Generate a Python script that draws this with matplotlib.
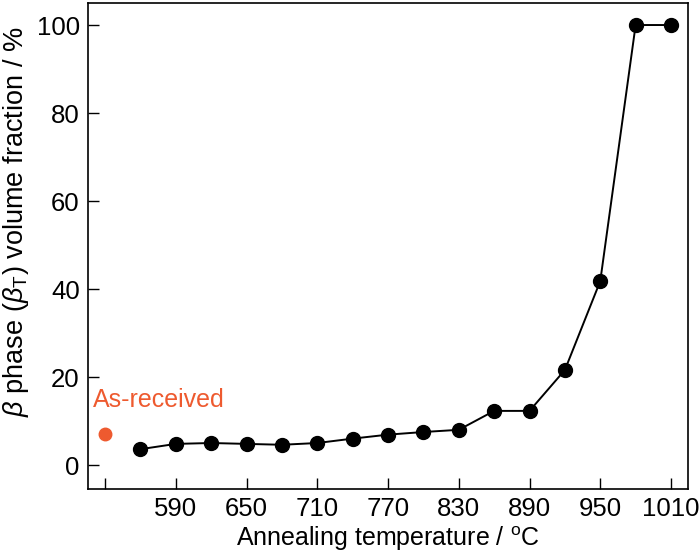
import matplotlib.pyplot as plt
import numpy as np

plt.rcParams['font.family'] = ['Liberation Sans', 'DejaVu Sans']
plt.rcParams['mathtext.fontset'] = 'custom'
plt.rcParams['mathtext.rm'] = 'Liberation Sans'
plt.rcParams['mathtext.it'] = 'Liberation Sans:italic'

temps = [560, 590, 620, 650, 680, 710, 740, 770, 800, 830, 860, 890, 920, 950, 980, 1010]
beta_frac = [3.6, 4.8, 5.0, 4.8, 4.6, 5.0, 6.0, 6.9, 7.5, 8.0, 12.3, 12.3, 21.6, 41.8, 100, 100]
as_received_x = 530
as_received_y = 7.1
xticks = [530, 590, 650, 710, 770, 830, 890, 950, 1010]
xticklabels = ['', '590', '650', '710', '770', '830', '890', '950', '1010']

fig = plt.figure(figsize=(7, 5.6), dpi=100)
ax = fig.add_axes([0.1257, 0.1268, 0.8573, 0.8678])

ax.plot(temps, beta_frac, color='black', lw=1.4, marker='o', ms=10)
ax.plot([as_received_x], [as_received_y], 'o', color='#ee5a2f', ms=9)
ax.text(as_received_x - 10, as_received_y + 5.0, 'As-received', color='#ee5a2f',
        fontsize=18, ha='left', va='bottom')

ax.set_xlim(515.5, 1024.5)
ax.set_ylim(-5.45, 105)
ax.set_xticks(xticks)
ax.set_xticklabels(xticklabels)
ax.set_yticks([0, 20, 40, 60, 80, 100])
ax.tick_params(direction='in', length=8, width=1, labelsize=18.5, pad=6)

ax.set_xlabel(r'Annealing temperature / $^\mathrm{o}$C', fontsize=18, labelpad=2)
ax.set_ylabel(r'$\beta$ phase ($\beta_\mathrm{T}$) volume fraction / %', fontsize=19.5, labelpad=6)
ax.yaxis.set_label_coords(-0.095, 0.55)

for s in ax.spines.values():
    s.set_linewidth(1.2)

plt.savefig('out.png', dpi=100)
